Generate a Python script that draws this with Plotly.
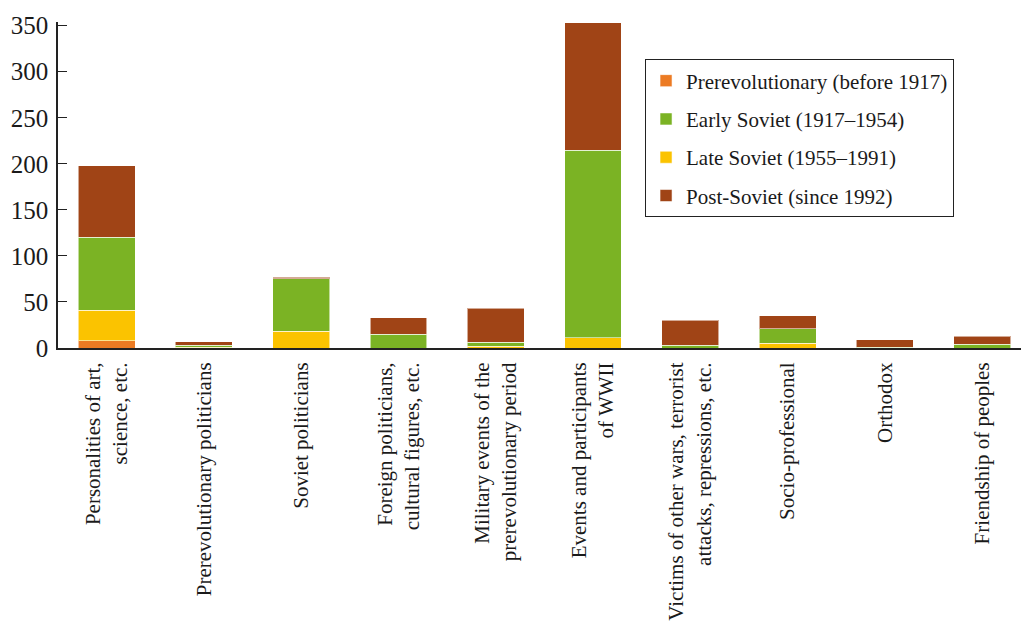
import plotly.graph_objects as go

categories = [
    "Personalities of art,<br>science, etc.",
    "Prerevolutionary politicians",
    "Soviet politicians",
    "Foreign politicians,<br>cultural figures, etc.",
    "Military events of the<br>prerevolutionary period",
    "Events and participants<br>of WWII",
    "Victims of other wars, terrorist<br>attacks, repressions, etc.",
    "Socio-professional",
    "Orthodox",
    "Friendship of peoples",
]

prerevolutionary = [8, 0, 0, 0, 0, 0, 0, 0, 0, 0]
late_soviet = [33, 1, 18, 0, 2, 11, 0, 5, 0, 0]
early_soviet = [79, 2, 57, 15, 4, 204, 3, 16, 1, 4]
post_soviet = [78, 4, 2, 18, 37, 138, 27, 14, 8, 9]

y_ticks = [0, 50, 100, 150, 200, 250, 300, 350]

series = [
    ("Prerevolutionary (before 1917)", prerevolutionary, "#EC7B23", 1),
    ("Late Soviet (1955\u20131991)", late_soviet, "#FBC300", 3),
    ("Early Soviet (1917\u20131954)", early_soviet, "#7BB324", 2),
    ("Post-Soviet (since 1992)", post_soviet, "#A04416", 4),
]

FONT = "Liberation Serif, Times New Roman, serif"

fig = go.Figure()
for name, vals, color, rank in series:
    fig.add_trace(go.Bar(
        x=list(range(len(categories))), y=vals, name=name,
        marker=dict(color=color, line=dict(color="rgba(255,255,255,0.55)", width=1)),
        width=0.585, legendrank=rank, legendgroup="g%d" % rank,
    ))

fig.update_layout(
    barmode="stack",
    width=1021, height=627,
    margin=dict(l=58, r=0, t=22, b=279),
    paper_bgcolor="white", plot_bgcolor="white",
    font=dict(family=FONT, color="#1a1a1a"),
    showlegend=True,
    legend=dict(
        x=0.6096, y=0.885, xanchor="left", yanchor="top",
        bordercolor="#222", borderwidth=1, bgcolor="white",
        font=dict(family=FONT, size=21, color="#1a1a1a"),
        tracegroupgap=8, traceorder="grouped",
    ),
    bargap=0.4,
)
fig.update_xaxes(
    tickmode="array", tickvals=list(range(len(categories))), ticktext=categories,
    range=[-0.5, 9.4], tickangle=-90, showgrid=False, zeroline=False,
    showline=True, linecolor="#222", linewidth=2, ticks="",
    tickfont=dict(family=FONT, size=21, color="#1a1a1a"),
    ticklabelstandoff=4,
)
fig.update_yaxes(
    range=[0, 354], tickvals=y_ticks, showgrid=False, zeroline=False,
    showline=True, linecolor="#222", linewidth=1.5,
    ticks="inside", ticklen=9, tickcolor="#222",
    tickfont=dict(family=FONT, size=25, color="#1a1a1a"),
    ticklabelstandoff=3,
)

fig.write_html("out.html", post_script="document.body.style.margin='0';",
               config={"displayModeBar": False})
